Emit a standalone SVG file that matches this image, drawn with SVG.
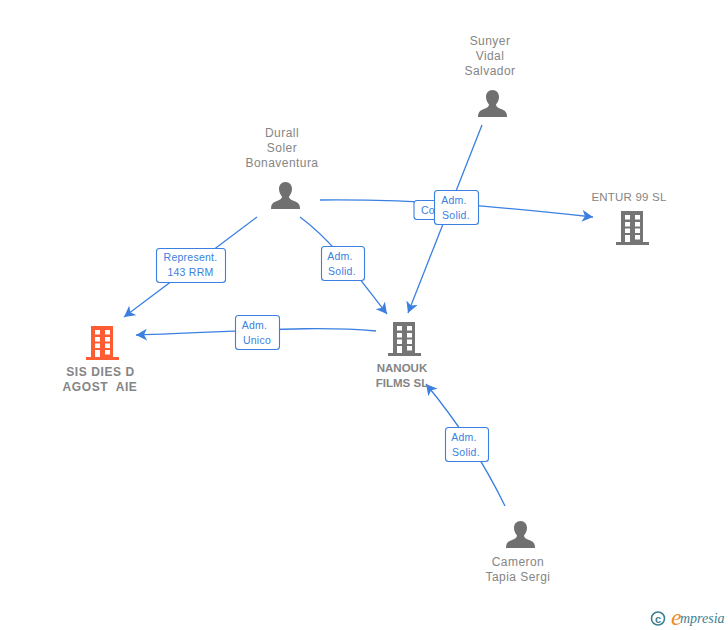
<svg xmlns="http://www.w3.org/2000/svg" width="728" height="630" viewBox="0 0 728 630">
<style>
text{font-family:"Liberation Sans",Arial,sans-serif}
.n{font-size:12px;fill:#858585;text-anchor:middle;letter-spacing:.45px}
.b{font-weight:bold;font-size:12px;letter-spacing:.6px;white-space:pre}
.b2{font-weight:bold;font-size:11.5px;letter-spacing:0}
.e{font-size:11.5px;letter-spacing:.2px}
.c{fill:none;stroke:#3b80e0;stroke-width:1.3}
.lb{fill:#fff;stroke:#3b80e0;stroke-width:1.1}
.lt{font-size:10.5px;fill:#3b80e0;text-anchor:middle;letter-spacing:.25px}
.win{fill:#fff}
</style>
<defs>
<marker id="a" markerWidth="13" markerHeight="12" refX="11" refY="6" orient="auto" markerUnits="userSpaceOnUse"><path d="M0 0L11 6L0 12L3 6Z" fill="#3b80e0"/></marker>
<g id="bld"><path d="M5 0H27V31H33V34H0V31H5Z"/><g class="win"><rect x="9" y="4" width="5" height="4.500"/><rect x="19" y="4" width="5" height="4.500"/><rect x="9" y="11" width="5" height="4.500"/><rect x="19" y="11" width="5" height="4.500"/><rect x="9" y="17.500" width="5" height="4.500"/><rect x="19" y="17.500" width="5" height="4.500"/><rect x="9" y="24" width="5" height="7"/><rect x="19" y="24" width="5" height="4.500"/></g></g>
<path id="psn" d="M14.500 0C10.500 0 8 3 8 7C8 10 9.500 12.500 11 14.500C11 16.500 9.500 17.500 6 19C2 20.500 0 22 0 27H29C29 22 27 20.500 23 19C19.500 17.500 18 16.500 18 14.500C19.500 12.500 21 10 21 7C21 3 18.500 0 14.500 0Z" fill="#707070"/>
</defs>
<g id="connectors">
<path class="c" d="M257 217L124 317" marker-end="url(#a)"/>
<path class="c" d="M376 331C310 325 240 332 136 335" marker-end="url(#a)"/>
<path class="c" d="M300 217C335 243 360 280 387 314" marker-end="url(#a)"/>
<path class="c" d="M482 125L408 313" marker-end="url(#a)"/>
<path class="c" d="M320 200C420 199 500 207 593 217" marker-end="url(#a)"/>
<path class="c" d="M505 506C485 465 460 425 426 384" marker-end="url(#a)"/>
</g>
<g id="edge-represent"><rect class="lb" x="156.500" y="248.500" width="69" height="34" rx="3"/><text class="lt" x="190.500" y="261">Represent.</text><text class="lt" x="190.500" y="276">143 RRM</text></g>
<g id="edge-unico"><rect class="lb" x="235.500" y="315.500" width="44" height="34" rx="3"/><text class="lt" x="254.500" y="329">Adm.</text><text class="lt" x="257" y="344">Unico</text></g>
<g id="edge-solid-durall"><rect class="lb" x="321.500" y="246.500" width="43" height="34" rx="3"/><text class="lt" x="340" y="260">Adm.</text><text class="lt" x="342" y="275">Solid.</text></g>
<g id="edge-consej"><rect class="lb" x="414" y="200.500" width="40" height="19" rx="3"/><text class="lt" x="421" y="214" style="text-anchor:start">Co</text></g>
<g id="edge-solid-sunyer"><rect class="lb" x="434.500" y="190.500" width="44" height="34" rx="3"/><text class="lt" x="454" y="204">Adm.</text><text class="lt" x="456" y="219">Solid.</text></g>
<g id="edge-solid-cameron"><rect class="lb" x="445.500" y="427.500" width="43" height="34" rx="3"/><text class="lt" x="464" y="441">Adm.</text><text class="lt" x="466" y="456">Solid.</text></g>
<g id="node-sis"><use href="#bld" x="86" y="326" fill="#ff5c33"/><text class="n b" x="100.500" y="376">SIS DIES D</text><text class="n b" x="100" y="391">AGOST  AIE</text></g>
<g id="node-nanouk"><use href="#bld" x="388" y="322" fill="#757575"/><text class="n b2" x="402" y="372">NANOUK</text><text class="n b2" x="402" y="387">FILMS SL</text></g>
<g id="node-entur"><use href="#bld" x="616" y="211" fill="#757575"/><text class="n e" x="629" y="201">ENTUR 99 SL</text></g>
<g id="node-durall"><use href="#psn" x="271" y="182"/><text class="n" x="282" y="137">Durall</text><text class="n" x="282" y="152">Soler</text><text class="n" x="282" y="167">Bonaventura</text></g>
<g id="node-sunyer"><use href="#psn" x="478" y="90"/><text class="n" x="490" y="45">Sunyer</text><text class="n" x="490" y="60">Vidal</text><text class="n" x="490" y="75">Salvador</text></g>
<g id="node-cameron"><use href="#psn" x="506" y="521"/><text class="n" x="518" y="566">Cameron</text><text class="n" x="518" y="581">Tapia Sergi</text></g>
<g id="copyright"><circle cx="658" cy="618.500" r="6.500" fill="none" stroke="#3d7f91" stroke-width="1.600"/><text x="658" y="622.500" font-size="11" font-weight="bold" fill="#3d7f91" text-anchor="middle">c</text><text x="671" y="625" font-size="24" font-style="italic" fill="#f08a1d" style="font-family:'Liberation Serif',serif">e</text><text x="680" y="623" font-size="14" font-style="italic" fill="#3d7f91" style="font-family:'Liberation Serif',serif">mpresia</text></g>
</svg>
